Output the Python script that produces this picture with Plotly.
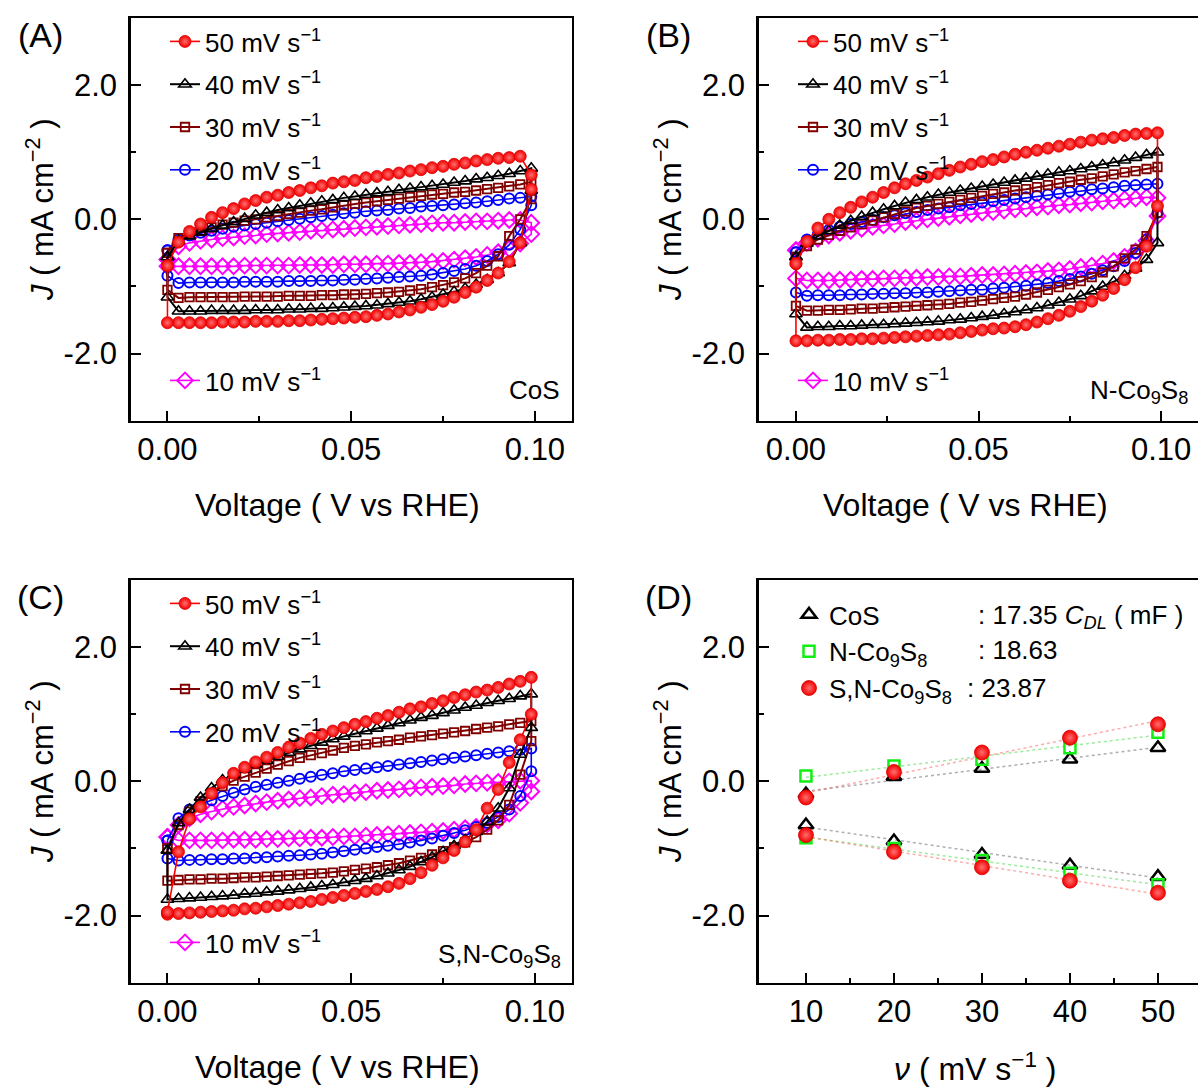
import numpy as np
import plotly.graph_objects as go

W, H = 1198, 1087
FONT = "Liberation Sans, Arial, sans-serif"

# ---------------- data ----------------
V_FWD = [0.000, 0.003, 0.006, 0.009, 0.012, 0.015, 0.018, 0.021, 0.024, 0.027,
         0.030, 0.033, 0.036, 0.039, 0.042, 0.045, 0.048, 0.051, 0.054, 0.057,
         0.060, 0.063, 0.066, 0.069, 0.072, 0.075, 0.078, 0.081, 0.084, 0.087,
         0.090, 0.093, 0.096, 0.099]
V_REV = [0.099, 0.096, 0.093, 0.090, 0.087, 0.084, 0.081, 0.078, 0.075, 0.072,
         0.069, 0.066, 0.063, 0.060, 0.057, 0.054, 0.051, 0.048, 0.045, 0.042,
         0.039, 0.036, 0.033, 0.030, 0.027, 0.024, 0.021, 0.018, 0.015, 0.012,
         0.009, 0.006, 0.003, 0.000]

RATES = [10, 20, 30, 40, 50]

# Panel A : CoS
A_50_F = [-0.69, -0.34, -0.18, -0.07, 0.03, 0.10, 0.16, 0.23, 0.28, 0.33, 0.36, 0.40, 0.43, 0.47, 0.50, 0.54, 0.56,
          0.58, 0.62, 0.64, 0.67, 0.69, 0.72, 0.74, 0.77, 0.79, 0.82, 0.84, 0.87, 0.89, 0.91, 0.92, 0.94, 0.66]
A_50_R = [0.45, -0.35, -0.63, -0.80, -0.91, -1.01, -1.09, -1.16, -1.22, -1.27, -1.31, -1.35, -1.38, -1.41, -1.43,
          -1.45, -1.46, -1.47, -1.48, -1.49, -1.50, -1.51, -1.51, -1.52, -1.52, -1.52, -1.53, -1.53, -1.53, -1.54,
          -1.54, -1.54, -1.54, -1.54]
A_40_F = [-0.56, -0.32, -0.25, -0.19, -0.14, -0.09, -0.04, 0.01, 0.06, 0.10, 0.14, 0.17, 0.21, 0.24, 0.27, 0.29, 0.32,
          0.34, 0.37, 0.39, 0.41, 0.44, 0.46, 0.48, 0.50, 0.52, 0.55, 0.57, 0.60, 0.62, 0.65, 0.68, 0.72, 0.76]
A_40_R = [0.43, -0.35, -0.65, -0.80, -0.90, -0.97, -1.03, -1.08, -1.12, -1.16, -1.19, -1.22, -1.24, -1.26, -1.28,
          -1.29, -1.30, -1.31, -1.32, -1.33, -1.33, -1.34, -1.34, -1.35, -1.35, -1.35, -1.36, -1.36, -1.36, -1.36,
          -1.37, -1.37, -1.37, -1.16]
A_30_F = [-0.50, -0.28, -0.22, -0.17, -0.12, -0.08, -0.05, -0.02, 0.00, 0.03, 0.05, 0.08, 0.10, 0.13, 0.15, 0.18, 0.21,
          0.23, 0.25, 0.27, 0.29, 0.31, 0.33, 0.35, 0.37, 0.38, 0.40, 0.41, 0.43, 0.45, 0.47, 0.49, 0.52, 0.56]
A_30_R = [0.30, 0.00, -0.25, -0.55, -0.69, -0.80, -0.88, -0.94, -0.98, -1.01, -1.04, -1.06, -1.08, -1.09, -1.10,
          -1.11, -1.12, -1.12, -1.13, -1.13, -1.14, -1.14, -1.14, -1.15, -1.15, -1.15, -1.15, -1.16, -1.16, -1.16,
          -1.16, -1.16, -1.17, -1.05]
A_20_F = [-0.46, -0.30, -0.24, -0.20, -0.17, -0.14, -0.11, -0.09, -0.07, -0.05, -0.03, -0.01, 0.01, 0.03, 0.05, 0.07,
          0.09, 0.10, 0.12, 0.13, 0.14, 0.16, 0.17, 0.19, 0.20, 0.21, 0.22, 0.24, 0.25, 0.27, 0.29, 0.31, 0.32, 0.34]
A_20_R = [0.21, -0.15, -0.38, -0.52, -0.62, -0.69, -0.74, -0.77, -0.80, -0.82, -0.84, -0.85, -0.86, -0.87, -0.88,
          -0.89, -0.90, -0.90, -0.91, -0.91, -0.92, -0.92, -0.92, -0.93, -0.93, -0.93, -0.93, -0.94, -0.94, -0.94,
          -0.94, -0.94, -0.95, -0.84]
A_10_F = [-0.60, -0.40, -0.35, -0.32, -0.30, -0.28, -0.27, -0.25, -0.24, -0.22, -0.21, -0.20, -0.19, -0.17, -0.16,
          -0.15, -0.14, -0.13, -0.12, -0.11, -0.10, -0.09, -0.08, -0.07, -0.06, -0.05, -0.05, -0.04, -0.03, -0.03,
          -0.02, -0.01, -0.01, -0.05]
A_10_R = [-0.22, -0.36, -0.44, -0.49, -0.53, -0.56, -0.58, -0.60, -0.62, -0.63, -0.64, -0.65, -0.65, -0.66, -0.66,
          -0.67, -0.67, -0.67, -0.68, -0.68, -0.68, -0.68, -0.69, -0.69, -0.69, -0.69, -0.69, -0.70, -0.70, -0.70,
          -0.70, -0.70, -0.70, -0.70]

# Panel B : N-Co9S8
B_50_F = [-0.66, -0.33, -0.13, 0.00, 0.10, 0.18, 0.26, 0.33, 0.40, 0.47, 0.53, 0.58, 0.63, 0.68, 0.73, 0.78, 0.82,
          0.86, 0.89, 0.93, 0.97, 1.00, 1.03, 1.06, 1.09, 1.12, 1.15, 1.18, 1.20, 1.22, 1.25, 1.27, 1.28, 1.29]
B_50_R = [0.20, -0.40, -0.72, -0.90, -1.03, -1.13, -1.22, -1.30, -1.37, -1.43, -1.48, -1.53, -1.57, -1.60, -1.62,
          -1.63, -1.65, -1.67, -1.69, -1.71, -1.72, -1.73, -1.74, -1.75, -1.76, -1.77, -1.78, -1.78, -1.79, -1.79,
          -1.80, -1.80, -1.81, -1.81]
B_40_F = [-0.56, -0.36, -0.25, -0.17, -0.09, -0.02, 0.04, 0.10, 0.15, 0.20, 0.25, 0.29, 0.33, 0.37, 0.40, 0.43, 0.46,
          0.49, 0.52, 0.55, 0.58, 0.61, 0.64, 0.67, 0.70, 0.72, 0.75, 0.78, 0.81, 0.84, 0.88, 0.92, 0.96, 1.00]
B_40_R = [-0.35, -0.60, -0.73, -0.84, -0.93, -1.00, -1.07, -1.14, -1.19, -1.24, -1.28, -1.32, -1.35, -1.38, -1.41,
          -1.43, -1.45, -1.47, -1.49, -1.50, -1.52, -1.53, -1.54, -1.55, -1.56, -1.57, -1.57, -1.58, -1.59, -1.59,
          -1.60, -1.60, -1.61, -1.41]
B_30_F = [-0.56, -0.40, -0.30, -0.23, -0.17, -0.12, -0.07, -0.02, 0.03, 0.08, 0.12, 0.17, 0.20, 0.23, 0.26, 0.29, 0.32,
          0.35, 0.38, 0.40, 0.43, 0.45, 0.48, 0.51, 0.54, 0.56, 0.59, 0.61, 0.64, 0.67, 0.70, 0.72, 0.75, 0.78]
B_30_R = [0.10, -0.25, -0.45, -0.58, -0.70, -0.79, -0.86, -0.92, -0.97, -1.01, -1.05, -1.09, -1.12, -1.15, -1.17,
          -1.19, -1.21, -1.23, -1.24, -1.26, -1.27, -1.28, -1.29, -1.30, -1.31, -1.32, -1.33, -1.33, -1.34, -1.35,
          -1.35, -1.36, -1.36, -1.29]
B_20_F = [-0.49, -0.30, -0.22, -0.16, -0.11, -0.07, -0.04, -0.01, 0.03, 0.06, 0.09, 0.11, 0.14, 0.16, 0.18, 0.21,
          0.23, 0.25, 0.27, 0.29, 0.31, 0.33, 0.35, 0.37, 0.39, 0.41, 0.43, 0.45, 0.46, 0.48, 0.50, 0.51, 0.52, 0.53]
B_20_R = [0.10, -0.30, -0.50, -0.62, -0.70, -0.76, -0.81, -0.85, -0.89, -0.92, -0.95, -0.97, -0.99, -1.01, -1.02,
          -1.03, -1.05, -1.05, -1.06, -1.07, -1.08, -1.09, -1.09, -1.10, -1.10, -1.11, -1.11, -1.12, -1.12, -1.13,
          -1.13, -1.13, -1.14, -1.09]
B_10_F = [-0.46, -0.35, -0.29, -0.24, -0.20, -0.17, -0.14, -0.11, -0.09, -0.07, -0.04, -0.02, 0.00, 0.02, 0.04, 0.06,
          0.08, 0.10, 0.11, 0.13, 0.15, 0.16, 0.18, 0.19, 0.21, 0.22, 0.24, 0.25, 0.27, 0.28, 0.30, 0.31, 0.33, 0.32]
B_10_R = [0.05, -0.32, -0.48, -0.56, -0.62, -0.66, -0.69, -0.71, -0.74, -0.76, -0.77, -0.79, -0.80, -0.81, -0.82,
          -0.83, -0.83, -0.84, -0.85, -0.85, -0.86, -0.86, -0.87, -0.87, -0.88, -0.88, -0.89, -0.89, -0.90, -0.90,
          -0.91, -0.91, -0.91, -0.88]

# Panel C : S,N-Co9S8
C_50_F = [-1.95, -1.05, -0.56, -0.38, -0.18, -0.02, 0.12, 0.21, 0.29, 0.36, 0.43, 0.51, 0.57, 0.64, 0.70, 0.75, 0.80,
          0.85, 0.89, 0.94, 0.98, 1.03, 1.08, 1.11, 1.16, 1.20, 1.25, 1.29, 1.33, 1.36, 1.40, 1.45, 1.49, 1.55]
C_50_R = [1.00, 0.62, 0.28, -0.12, -0.40, -0.72, -0.90, -1.03, -1.14, -1.25, -1.36, -1.45, -1.52, -1.57, -1.61,
          -1.64, -1.67, -1.70, -1.73, -1.76, -1.79, -1.81, -1.83, -1.85, -1.87, -1.89, -1.90, -1.92, -1.93, -1.94,
          -1.95, -1.96, -1.97, -1.98]
C_40_F = [-1.03, -0.62, -0.42, -0.24, -0.10, 0.02, 0.10, 0.18, 0.25, 0.31, 0.37, 0.43, 0.48, 0.53, 0.58, 0.63, 0.67,
          0.71, 0.75, 0.79, 0.83, 0.87, 0.91, 0.95, 0.98, 1.02, 1.06, 1.10, 1.13, 1.17, 1.20, 1.23, 1.27, 1.30]
C_40_R = [0.80, 0.40, -0.10, -0.40, -0.60, -0.75, -0.87, -0.96, -1.05, -1.13, -1.20, -1.27, -1.32, -1.37, -1.41,
          -1.45, -1.48, -1.51, -1.54, -1.56, -1.58, -1.60, -1.62, -1.64, -1.65, -1.67, -1.68, -1.70, -1.71, -1.72,
          -1.73, -1.74, -1.75, -1.76]
C_30_F = [-1.00, -0.65, -0.45, -0.30, -0.18, -0.07, 0.01, 0.07, 0.13, 0.19, 0.25, 0.30, 0.35, 0.39, 0.42, 0.46, 0.50,
          0.53, 0.55, 0.58, 0.60, 0.62, 0.65, 0.67, 0.69, 0.71, 0.73, 0.75, 0.78, 0.80, 0.82, 0.85, 0.87, 0.90]
C_30_R = [0.60, 0.10, -0.35, -0.58, -0.72, -0.83, -0.91, -0.98, -1.04, -1.09, -1.14, -1.18, -1.22, -1.25, -1.28,
          -1.30, -1.32, -1.34, -1.36, -1.37, -1.38, -1.39, -1.40, -1.41, -1.42, -1.43, -1.43, -1.44, -1.45, -1.45,
          -1.46, -1.46, -1.47, -1.48]
C_20_F = [-0.88, -0.55, -0.42, -0.34, -0.28, -0.22, -0.17, -0.12, -0.08, -0.05, -0.02, 0.01, 0.04, 0.07, 0.10, 0.12,
          0.15, 0.17, 0.19, 0.21, 0.23, 0.25, 0.27, 0.29, 0.31, 0.33, 0.35, 0.37, 0.39, 0.41, 0.43, 0.45, 0.47, 0.49]
C_20_R = [0.15, -0.22, -0.42, -0.53, -0.62, -0.68, -0.73, -0.77, -0.81, -0.85, -0.88, -0.91, -0.94, -0.96, -0.98,
          -1.00, -1.02, -1.04, -1.06, -1.08, -1.09, -1.10, -1.11, -1.12, -1.13, -1.14, -1.15, -1.15, -1.16, -1.16,
          -1.17, -1.17, -1.18, -1.15]
C_10_F = [-0.83, -0.65, -0.55, -0.49, -0.45, -0.41, -0.38, -0.36, -0.33, -0.31, -0.29, -0.27, -0.25, -0.24, -0.22,
          -0.20, -0.19, -0.17, -0.16, -0.14, -0.13, -0.12, -0.10, -0.09, -0.08, -0.07, -0.06, -0.04, -0.03, -0.02,
          -0.01, 0.00, 0.01, 0.01]
C_10_R = [-0.15, -0.32, -0.48, -0.58, -0.64, -0.68, -0.70, -0.72, -0.74, -0.75, -0.76, -0.77, -0.78, -0.79, -0.80,
          -0.81, -0.82, -0.82, -0.83, -0.84, -0.84, -0.85, -0.85, -0.86, -0.86, -0.87, -0.87, -0.87, -0.88, -0.88,
          -0.88, -0.88, -0.88, -0.83]

# Panel D : current vs scan rate
SCAN = [10, 20, 30, 40, 50]
COS_ANO = [-0.19, 0.07, 0.19, 0.33, 0.50]
COS_CAT = [-0.65, -0.89, -1.09, -1.25, -1.42]
NCO_ANO = [0.08, 0.23, 0.33, 0.50, 0.73]
NCO_CAT = [-0.84, -1.00, -1.18, -1.37, -1.54]
SNCO_ANO = [-0.24, 0.14, 0.43, 0.65, 0.85]
SNCO_CAT = [-0.80, -1.05, -1.28, -1.48, -1.66]

X_TICKS = [0.00, 0.05, 0.10]
X_TICKTEXT = ["0.00", "0.05", "0.10"]
X_MINOR = [0.025, 0.075]
Y_TICKS = [-2.0, 0.0, 2.0]
Y_TICKTEXT = ["-2.0", "0.0", "2.0"]
Y_MINOR = [-1.0, 1.0]
D_TICKS = [10, 20, 30, 40, 50]
D_MINOR = [15, 25, 35, 45]

CV = {
    "A": {10: (A_10_F, A_10_R), 20: (A_20_F, A_20_R), 30: (A_30_F, A_30_R), 40: (A_40_F, A_40_R), 50: (A_50_F, A_50_R)},
    "B": {10: (B_10_F, B_10_R), 20: (B_20_F, B_20_R), 30: (B_30_F, B_30_R), 40: (B_40_F, B_40_R), 50: (B_50_F, B_50_R)},
    "C": {10: (C_10_F, C_10_R), 20: (C_20_F, C_20_R), 30: (C_30_F, C_30_R), 40: (C_40_F, C_40_R), 50: (C_50_F, C_50_R)},
}

# ---------------- styles ----------------
BALL = dict(type="radial", color="#ff7070")
STYLE = {
    50: dict(symbol="circle", color="#ff0000", mfill="#f20000", mline="#e00000", size=12, mlw=0.8, lw=1.6, grad=BALL),
    40: dict(symbol="triangle-up-open", color="#000000", mfill="#000000", mline="#000000", size=11, mlw=1.6, lw=2.0, grad=None),
    30: dict(symbol="square-open", color="#800000", mfill="#800000", mline="#800000", size=8.5, mlw=1.8, lw=2.0, grad=None),
    20: dict(symbol="circle-open", color="#0000ff", mfill="#0000ff", mline="#0000ff", size=10, mlw=2.0, lw=1.6, grad=None),
    10: dict(symbol="diamond-open", color="#ff00ff", mfill="#ff00ff", mline="#ff00ff", size=12, mlw=2.0, lw=1.6, grad=None),
}


def px(x):
    return x / W


def py(y):
    return 1 - y / H


fig = go.Figure()

PANEL_AX = {"A": ("x", "y"), "B": ("x2", "y2"), "C": ("x3", "y3")}
PANEL_LEG = {"A": ("legend", "legend2"), "B": ("legend3", "legend4"), "C": ("legend5", "legend6")}

for panel in ["A", "B", "C"]:
    xa, ya = PANEL_AX[panel]
    leg_main, leg_10 = PANEL_LEG[panel]
    for rate in RATES:
        f, r = CV[panel][rate]
        st = STYLE[rate]
        xs = V_FWD + V_REV + [V_FWD[0]]
        ys = f + r + [f[0]]
        mk = dict(symbol=st["symbol"], size=st["size"], color=st["mfill"],
                  line=dict(color=st["mline"], width=st["mlw"]))
        if st["grad"]:
            mk["gradient"] = st["grad"]
        fig.add_trace(go.Scatter(
            x=xs, y=ys, xaxis=xa, yaxis=ya, mode="lines+markers",
            name=f"{rate} mV s<sup>\u22121</sup>",
            line=dict(color=st["color"], width=st["lw"]),
            marker=mk,
            legend=leg_10 if rate == 10 else leg_main,
            legendgroup=f"{panel}{rate}", legendrank=100 - rate,
            hoverinfo="skip",
        ))

# Panel D
D_SERIES = [
    ("CoS", COS_ANO, COS_CAT, dict(symbol="triangle-up-open", size=13, color="#000000",
                                   line=dict(color="#000000", width=2.5)), "rgba(110,110,110,0.55)"),
    ("N-Co<sub>9</sub>S<sub>8</sub>", NCO_ANO, NCO_CAT, dict(symbol="square-open", size=11, color="#11ee11",
                                                             line=dict(color="#11ee11", width=2.5)), "rgba(40,210,40,0.45)"),
    ("S,N-Co<sub>9</sub>S<sub>8</sub>", SNCO_ANO, SNCO_CAT, dict(symbol="circle", size=15, color="#f20000",
                                                                 gradient=BALL,
                                                                 line=dict(color="#e00000", width=0.8)), "rgba(255,90,90,0.5)"),
]
for name, ano, cat, mk, fitc in D_SERIES:
    for vals in (ano, cat):
        k, b = np.polyfit(SCAN, vals, 1)
        fig.add_trace(go.Scatter(x=[SCAN[0], SCAN[-1]], y=[k * SCAN[0] + b, k * SCAN[-1] + b],
                                 xaxis="x4", yaxis="y4", mode="lines",
                                 line=dict(color=fitc, width=1.5, dash="dot"),
                                 showlegend=False, hoverinfo="skip"))
for i, (name, ano, cat, mk, fitc) in enumerate(D_SERIES):
    fig.add_trace(go.Scatter(x=SCAN + SCAN, y=ano + cat, xaxis="x4", yaxis="y4", mode="markers",
                             name=name, marker=mk, legend="legend7", legendgroup=f"D{i}",
                             legendrank=i, hoverinfo="skip"))

# ---------------- axes ----------------
AX_COMMON = dict(showline=True, linewidth=2.5, linecolor="black", mirror=True,
                 ticks="inside", ticklen=10, tickwidth=2, tickcolor="black",
                 showgrid=False, zeroline=False,
                 tickfont=dict(family=FONT, size=31, color="black"))

X_DOM_L = [px(130.7), px(571.7)]
X_DOM_R = [px(758.7), 1.0]
Y_DOM_T = [py(420.7), py(18)]
Y_DOM_B = [py(982.7), py(580)]


def xcv(domain, anchor, rng):
    return dict(AX_COMMON, domain=domain, anchor=anchor, range=rng, tickmode="array",
                tickvals=X_TICKS, ticktext=X_TICKTEXT, ticklabelstandoff=0,
                minor=dict(tickmode="array", tickvals=X_MINOR, ticks="inside", ticklen=5, tickwidth=2,
                           tickcolor="black"))


def ycv(domain, anchor):
    return dict(AX_COMMON, domain=domain, anchor=anchor, range=[-3.0, 3.0], tickmode="array",
                tickvals=Y_TICKS, ticktext=Y_TICKTEXT, ticklabelstandoff=5,
                minor=dict(tickmode="array", tickvals=Y_MINOR, ticks="inside", ticklen=5, tickwidth=2,
                           tickcolor="black"))


def legend_cfg(x_left, y_top, size=26, gap=6):
    return dict(x=px(x_left), y=py(y_top), xanchor="left", yanchor="top",
                bgcolor="rgba(0,0,0,0)", borderwidth=0,
                font=dict(family=FONT, size=size, color="black"),
                traceorder="grouped", tracegroupgap=gap,
                itemclick=False, itemdoubleclick=False)


annotations = []


def ann(text, x, y, size=31, xanchor="center", yanchor="middle", angle=0):
    annotations.append(dict(text=text, x=px(x), y=py(y), xref="paper", yref="paper",
                            xanchor=xanchor, yanchor=yanchor, showarrow=False, textangle=angle,
                            font=dict(family=FONT, size=size, color="black")))


YTITLE = "<i>J</i> ( mA cm<sup>\u22122</sup> )"
XTITLE = "Voltage ( V vs RHE)"
for dx, dy, lab in [(0, 0, "(A)"), (628, 0, "(B)"), (0, 562, "(C)"), (628, 562, "(D)")]:
    ann(lab, 40 + dx, 35 + dy, size=34)
    ann(YTITLE, 40 + dx, 210 + dy, size=31, angle=-90)
ann(XTITLE, 337, 505, size=32)
ann(XTITLE, 965, 505, size=32)
ann(XTITLE, 337, 1067, size=32)
ann("<i>\u03bd</i> ( mV s<sup>\u22121</sup> )", 975, 1067, size=32)
ann("CoS", 562, 390, size=26, xanchor="right")
ann("N-Co<sub>9</sub>S<sub>8</sub>", 1190, 392, size=26, xanchor="right")
ann("S,N-Co<sub>9</sub>S<sub>8</sub>", 563, 955, size=26, xanchor="right")
ann(": 17.35 <i>C</i><sub><i>DL</i></sub> ( mF )", 976, 616, size=26, xanchor="left")
ann(": 18.63", 976, 650, size=26, xanchor="left")
ann(": 23.87", 965, 688, size=26, xanchor="left")

fig.update_layout(
    width=W, height=H,
    margin=dict(l=0, r=0, t=0, b=0, autoexpand=False),
    paper_bgcolor="white", plot_bgcolor="white",
    showlegend=True,
    xaxis=xcv(X_DOM_L, "y", [-0.01, 0.11]),
    yaxis=ycv(Y_DOM_T, "x"),
    xaxis2=xcv(X_DOM_R, "y2", [-0.0102, 0.1101]),
    yaxis2=ycv(Y_DOM_T, "x2"),
    xaxis3=xcv(X_DOM_L, "y3", [-0.01, 0.11]),
    yaxis3=ycv(Y_DOM_B, "x3"),
    xaxis4=dict(AX_COMMON, domain=X_DOM_R, anchor="y4", range=[4.63, 54.55], tickmode="array",
                tickvals=D_TICKS, ticktext=[str(v) for v in D_TICKS], ticklabelstandoff=0,
                minor=dict(tickmode="array", tickvals=D_MINOR, ticks="inside", ticklen=5, tickwidth=2,
                           tickcolor="black")),
    yaxis4=ycv(Y_DOM_B, "x4"),
    legend=legend_cfg(165, 18),
    legend2=legend_cfg(165, 357),
    legend3=legend_cfg(793, 18),
    legend4=legend_cfg(793, 357),
    legend5=legend_cfg(165, 580),
    legend6=legend_cfg(165, 919),
    legend7=legend_cfg(789, 591, size=26, gap=0),
    annotations=annotations,
)

fig.write_html("out.html", config={"displayModeBar": False, "staticPlot": True},
               post_script="document.body.style.margin='0px';document.body.style.padding='0px';")
